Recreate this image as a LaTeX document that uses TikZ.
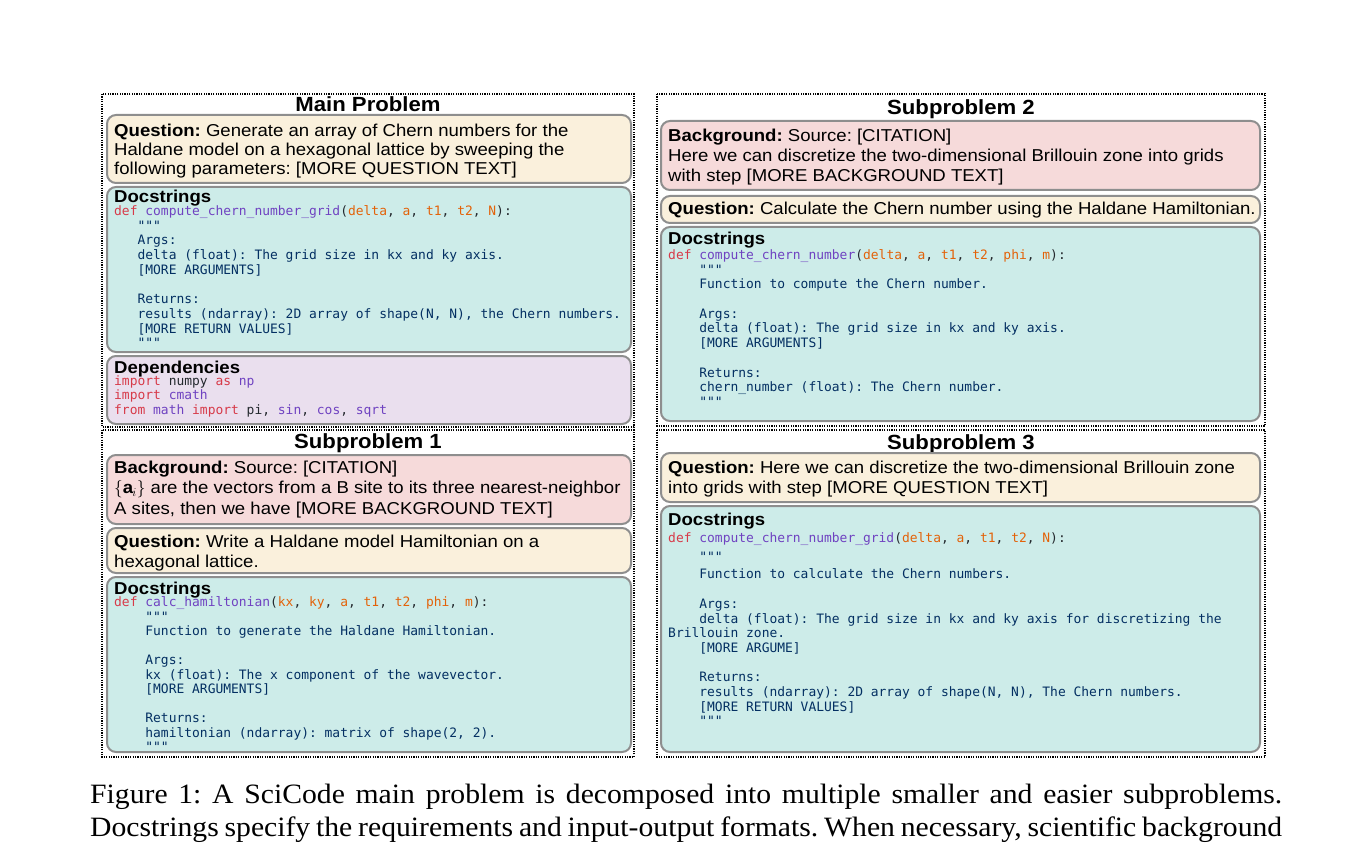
\documentclass[tikz,border=0pt]{standalone}
\usepackage{fontspec}
\setmainfont{Liberation Sans}[FakeStretch=1.08]
\setmonofont{DejaVu Sans Mono}
\newfontfamily\capfont{Liberation Serif}[FakeStretch=1.06]
\frenchspacing

\definecolor{qfill}{HTML}{FAF0DC}
\definecolor{bgfill}{HTML}{F6DADA}
\definecolor{docfill}{HTML}{CDECE9}
\definecolor{depfill}{HTML}{EADFEE}
\definecolor{edgegray}{HTML}{8E8E8E}
\definecolor{kwred}{HTML}{D73A49}
\definecolor{fnpurple}{HTML}{6F42C1}
\definecolor{parorange}{HTML}{E36209}
\definecolor{docnavy}{HTML}{032F62}
\definecolor{plaindark}{HTML}{24292E}

\newcommand{\kw}[1]{\textcolor{kwred}{#1}}
\newcommand{\fn}[1]{\textcolor{fnpurple}{#1}}
\newcommand{\pa}[1]{\textcolor{parorange}{#1}}
\newcommand{\pl}[1]{\textcolor{plaindark}{#1}}
\newcommand{\codeind}[1]{\hphantom{#1}}

\begin{document}
\begin{tikzpicture}[
        x=1pt, y=-1pt,
        outer/.style={draw=black, line width=1.2pt, dash pattern=on 1.2pt off 1.2pt},
        panel/.style={draw=edgegray, line width=2pt, rounded corners=9pt},
        qpanel/.style={panel, fill=qfill},
        bgpanel/.style={panel, fill=bgfill},
        docpanel/.style={panel, fill=docfill},
        deppanel/.style={panel, fill=depfill},
        title/.style={anchor=base, inner sep=0pt, font=\bfseries\fontsize{20.5}{24}\selectfont},
        txt/.style={anchor=base west, inner sep=0pt, align=flush left, text width=#1,
            font=\fontsize{17.2}{20}\selectfont},
        txt/.default=520pt,
        head/.style={anchor=base west, inner sep=0pt, font=\bfseries\fontsize{17.2}{20}\selectfont},
        code/.style={anchor=base west, inner sep=0pt, align=flush left, text width=#1,
            text=docnavy, font=\ttfamily\fontsize{12.95}{14.7}\selectfont},
        code/.default=540pt
      ]
      \useasboundingbox (0,0) rectangle (1368,850);
      % dotted frames
      \draw[outer] (102,94) rectangle (634,427);
      \draw[outer] (102,430) rectangle (634,757);
      \draw[outer] (657,94) rectangle (1265,426);
      \draw[outer] (657,430) rectangle (1265,757);

      % main problem
      \node[title] (maintitle) at (368,111.5) {Main Problem};
      \draw[qpanel] (107,115) rectangle (631,183);
      \node[txt, font=\fontsize{17.2}{19}\selectfont] (mainq) at (114,137)
      {\textbf{Question:} Generate an array of Chern numbers for the\\
        Haldane model on a hexagonal lattice by sweeping the\\
        following parameters: [MORE QUESTION TEXT]};
      \draw[docpanel] (107,187) rectangle (631,352);
      \node[head] (maindochead) at (114,203) {Docstrings};
      \node[code] (maindoc) at (114,215.5)
      {\kw{def} \fn{compute\_chern\_number\_grid}\pl{(}\pa{delta}\pl{, }\pa{a}\pl{, }\pa{t1}\pl{, }\pa{t2}\pl{, }\pa{N}\pl{):}\\
        \codeind{xxx}"""\\
        \codeind{xxx}Args:\\
        \codeind{xxx}delta (float): The grid size in kx and ky axis.\\
        \codeind{xxx}{[}MORE ARGUMENTS]\\
        \mbox{}\\
        \codeind{xxx}Returns:\\
        \codeind{xxx}results (ndarray): 2D array of shape(N, N), the Chern numbers.\\
        \codeind{xxx}{[}MORE RETURN VALUES]\\
        \codeind{xxx}"""};
      \draw[deppanel] (107,356) rectangle (631,424);
      \node[head] (maindephead) at (114,373) {Dependencies};
      \node[code, font=\ttfamily\fontsize{12.95}{14.5}\selectfont] (maindep) at (114,385)
      {\kw{import} \pl{numpy} \kw{as} \fn{np}\\
        \kw{import} \fn{cmath}\\
        \kw{from} \fn{math} \kw{import} \pl{pi, }\fn{sin}\pl{, }\fn{cos}\pl{, }\fn{sqrt}};

      % subproblem 1
      \node[title] (subonetitle) at (368,448.5) {Subproblem 1};
      \draw[bgpanel] (107,455) rectangle (631,524);
      \node[txt=530pt, font=\fontsize{17.2}{20.5}\selectfont] (subonebg) at (114,473)
      {\textbf{Background:} Source: [CITATION]\\
        $\{\mathbf{a}_i\}$ are the vectors from a B site to its three nearest-neighbor\\
        A sites, then we have [MORE BACKGROUND TEXT]};
      \draw[qpanel] (107,528) rectangle (631,573);
      \node[txt] (suboneq) at (114,547)
      {\textbf{Question:} Write a Haldane model Hamiltonian on a\\
        hexagonal lattice.};
      \draw[docpanel] (107,577) rectangle (631,752);
      \node[head] (subonedochead) at (114,594) {Docstrings};
      \node[code, font=\ttfamily\fontsize{12.95}{14.5}\selectfont] (subonedoc) at (114,606.5)
      {\kw{def} \fn{calc\_hamiltonian}\pl{(}\pa{kx}\pl{, }\pa{ky}\pl{, }\pa{a}\pl{, }\pa{t1}\pl{, }\pa{t2}\pl{, }\pa{phi}\pl{, }\pa{m}\pl{):}\\
        \codeind{xxxx}"""\\
        \codeind{xxxx}Function to generate the Haldane Hamiltonian.\\
        \mbox{}\\
        \codeind{xxxx}Args:\\
        \codeind{xxxx}kx (float): The x component of the wavevector.\\
        \codeind{xxxx}{[}MORE ARGUMENTS]\\
        \mbox{}\\
        \codeind{xxxx}Returns:\\
        \codeind{xxxx}hamiltonian (ndarray): matrix of shape(2, 2).\\
        \codeind{xxxx}"""};

      % subproblem 2
      \node[title] (subtwotitle) at (961,114.5) {Subproblem 2};
      \draw[bgpanel] (661,121) rectangle (1260,190);
      \node[txt=590pt] (subtwobg) at (668,142)
      {\textbf{Background:} Source: [CITATION]\\
        Here we can discretize the two-dimensional Brillouin zone into grids\\
        with step [MORE BACKGROUND TEXT]};
      \draw[qpanel] (661,196) rectangle (1260,223);
      \node[txt=620pt] (subtwoq) at (668,215)
      {\textbf{Question:} Calculate the Chern number using the Haldane Hamiltonian.};
      \draw[docpanel] (661,227) rectangle (1260,421);
      \node[head] (subtwodochead) at (668,245) {Docstrings};
      \node[code=600pt] (subtwodoc) at (668,259.5)
      {\kw{def} \fn{compute\_chern\_number}\pl{(}\pa{delta}\pl{, }\pa{a}\pl{, }\pa{t1}\pl{, }\pa{t2}\pl{, }\pa{phi}\pl{, }\pa{m}\pl{):}\\
        \codeind{xxxx}"""\\
        \codeind{xxxx}Function to compute the Chern number.\\
        \mbox{}\\
        \codeind{xxxx}Args:\\
        \codeind{xxxx}delta (float): The grid size in kx and ky axis.\\
        \codeind{xxxx}{[}MORE ARGUMENTS]\\
        \mbox{}\\
        \codeind{xxxx}Returns:\\
        \codeind{xxxx}chern\_number (float): The Chern number.\\
        \codeind{xxxx}"""};

      % subproblem 3
      \node[title] (subthreetitle) at (961,449.5) {Subproblem 3};
      \draw[qpanel] (661,453) rectangle (1260,502);
      \node[txt=590pt] (subthreeq) at (668,473)
      {\textbf{Question:} Here we can discretize the two-dimensional Brillouin zone\\
        into grids with step [MORE QUESTION TEXT]};
      \draw[docpanel] (661,506) rectangle (1260,752);
      \node[head] (subthreedochead) at (668,525) {Docstrings};
      \node[code=600pt] (subthreedoc) at (668,542.5)
      {\kw{def} \fn{compute\_chern\_number\_grid}\pl{(}\pa{delta}\pl{, }\pa{a}\pl{, }\pa{t1}\pl{, }\pa{t2}\pl{, }\pa{N}\pl{):}\\[4pt]
        \codeind{xxxx}"""\\[3pt]
        \codeind{xxxx}Function to calculate the Chern numbers.\\
        \mbox{}\\
        \codeind{xxxx}Args:\\
        \codeind{xxxx}delta (float): The grid size in kx and ky axis for discretizing the\\
        Brillouin zone.\\
        \codeind{xxxx}{[}MORE ARGUME]\\
        \mbox{}\\
        \codeind{xxxx}Returns:\\
        \codeind{xxxx}results (ndarray): 2D array of shape(N, N), The Chern numbers.\\
        \codeind{xxxx}{[}MORE RETURN VALUES]\\
        \codeind{xxxx}"""};

      % caption
      \node[anchor=base west, inner sep=0pt, align=flush left, text width=1192pt,
        font=\capfont\fontsize{28}{33}\selectfont] (caption) at (90,803)
      {\makebox[1192pt][s]{Figure 1: A SciCode main problem is decomposed into multiple smaller and easier subproblems.}\\
        \makebox[1192pt][s]{Docstrings specify the requirements and input-output formats. When necessary, scientific background}};
    \end{tikzpicture}
\end{document}
